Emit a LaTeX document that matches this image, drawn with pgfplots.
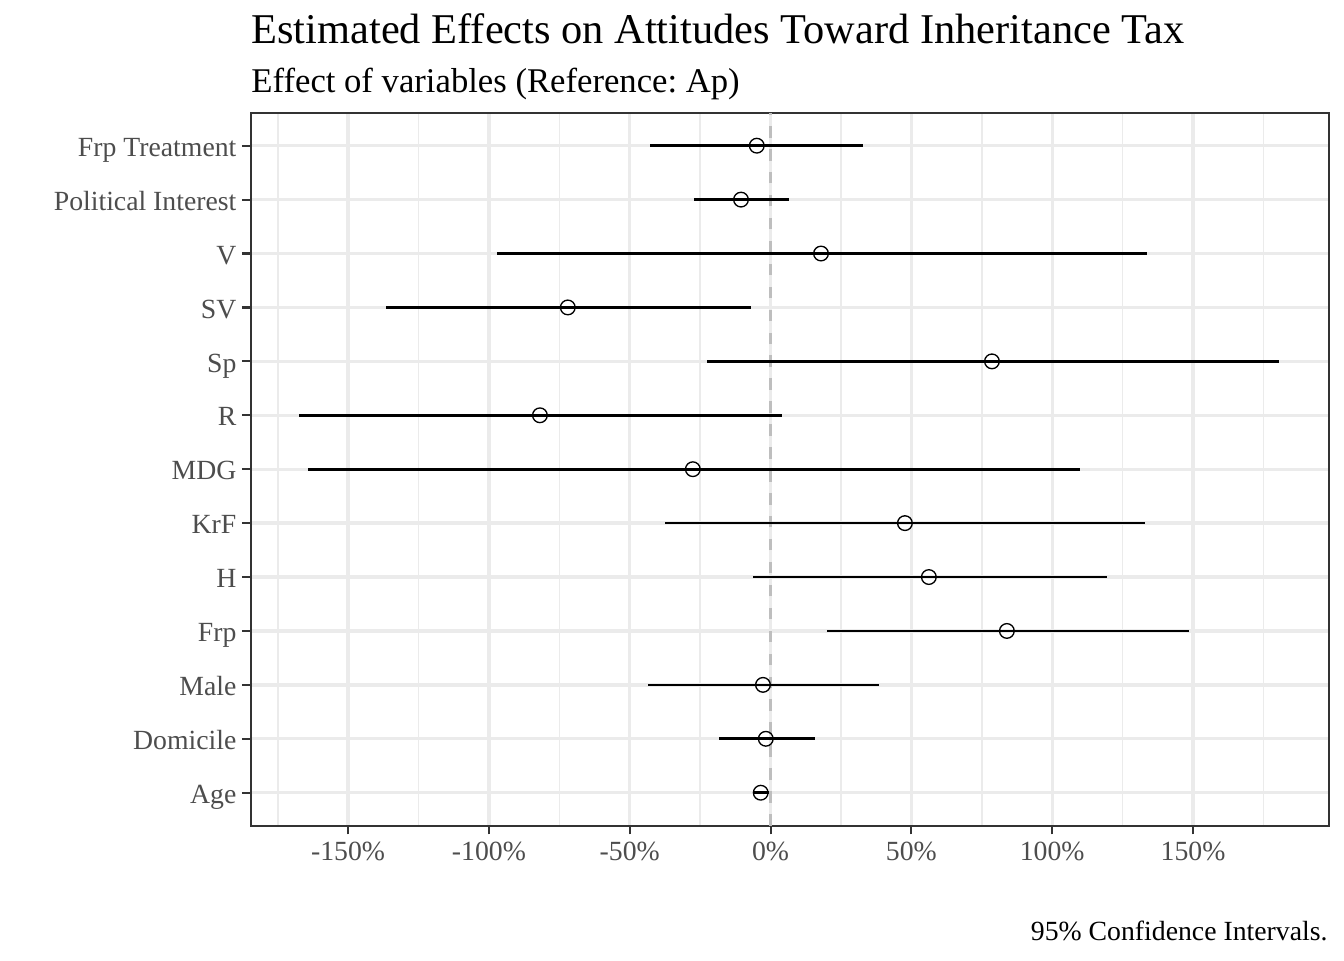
\documentclass[border=0pt]{standalone}
\usepackage{pgfplots}
\pgfplotsset{compat=1.18}
\usepackage{pgfplotstable}
\usepackage{fontspec}
\setmainfont{Liberation Serif}
\frenchspacing

\definecolor{gridcol}{HTML}{EBEBEB}
\definecolor{txtcol}{HTML}{4D4D4D}
\definecolor{framecol}{HTML}{333333}
\definecolor{zerocol}{HTML}{BEBEBE}

% y = row (1 = Age at the bottom), est = point estimate, lo/hi = 95% CI (percent)
\pgfplotstableread{
y  est    lo      hi
13 -4.9   -42.8   32.7
12 -10.5  -27.2   6.5
11 17.9   -97.2   133.6
10 -72.0  -136.6  -7.0
9  78.6   -22.6   180.6
8  -81.9  -167.4  4.0
7  -27.6  -164.2  109.8
6  47.7   -37.5   132.9
5  56.2   -6.3    119.4
4  83.9   20.0    148.6
3  -2.7   -43.6   38.6
2  -1.7   -18.4   15.7
1  -3.5   -6.4    -0.5
}\effects

\begin{document}
\begin{tikzpicture}
\useasboundingbox (0,0) rectangle (504pt,360pt);
\begin{axis}[
    at={(94pt,50.4pt)}, anchor=south west,
    scale only axis, width=404.3pt, height=267.1pt,
    xmin=-184.6, xmax=198.2, ymin=0.39, ymax=13.6,
    xtick={-150,-100,...,150},
    xticklabels={-150\%,-100\%,-50\%,0\%,50\%,100\%,150\%},
    minor xtick={-175,-125,...,175},
    ytick={1,...,13},
    yticklabels={Age,Domicile,Male,Frp,H,KrF,MDG,R,Sp,SV,V,Political Interest,Frp Treatment},
    tick align=outside, tick pos=left,
    major tick length=3.25pt, minor tick length=0pt,
    xmajorgrids, xminorgrids, ymajorgrids,
    major grid style={gridcol, line width=1.26pt},
    minor grid style={gridcol, line width=0.63pt},
    axis line style={framecol, line width=0.8pt},
    every tick/.style={framecol, line width=0.8pt},
    ticklabel style={font=\fontsize{10.4}{12}\selectfont, text=txtcol},
    xticklabel style={inner sep=2.7pt},
    yticklabel style={anchor=base east, inner sep=1.9pt, yshift=-4.0pt},
]
\addplot[zerocol, line width=1.07pt, dash pattern=on 4.3pt off 4.3pt]
    coordinates {(0,0.39) (0,13.6)};
\addplot[only marks, mark=o, mark size=2.75pt, mark options={black, line width=0.5pt},
    error bars/.cd, x dir=both, x explicit, error mark=none,
    error bar style={black, line width=1.0pt}]
    table[x=est, y=y,
          x error plus expr=\thisrow{hi}-\thisrow{est},
          x error minus expr=\thisrow{est}-\thisrow{lo}] {\effects};
\end{axis}
\node[anchor=base west, inner sep=0pt, font=\fontsize{15.9}{18}\selectfont] at (94.1pt,343.7pt)
    {Estimated Effects on Attitudes Toward Inheritance Tax};
\node[anchor=base west, inner sep=0pt, font=\fontsize{13}{15}\selectfont] at (94.1pt,325.5pt)
    {Effect of variables (Reference: Ap)};
\node[anchor=base east, inner sep=0pt, font=\fontsize{10.4}{12}\selectfont] at (498pt,7.3pt)
    {95\% Confidence Intervals.};
\end{tikzpicture}
\end{document}
